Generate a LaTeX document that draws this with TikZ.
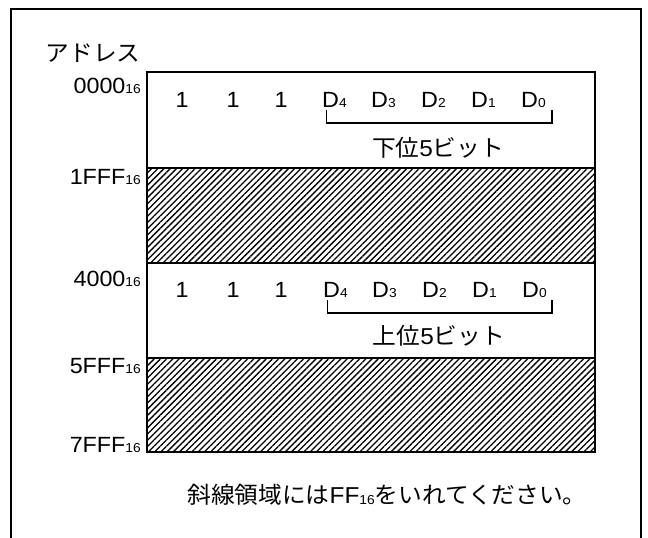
\documentclass[tikz,border=0pt]{standalone}
\usepackage{fontspec}
\setmainfont{Liberation Sans}[FakeStretch=1.06]
\newfontfamily\jp{Noto Sans CJK JP}[FakeStretch=1.03]
\usetikzlibrary{patterns.meta}
\newcommand\hsub[1]{\raisebox{-0.5pt}{\fontsize{13}{15}\selectfont #1}}
\tikzset{
  txt/.style={inner sep=0pt, font=\fontsize{22}{26}\selectfont},
  jtxt/.style={inner sep=0pt, font=\fontsize{23}{27}\selectfont\jp},
  frame/.style={line width=2pt},
  cell/.style={line width=2pt, fill=white},
  hatchcell/.style={line width=2pt, pattern={Lines[angle=45,distance=4.4pt,line width=1.3pt]}},
  brk/.style={line width=1.8pt},
}
\begin{document}
\begin{tikzpicture}[x=1pt,y=-1pt]
\useasboundingbox (0,0) rectangle (648,538);
% outer frame (bottom edge beyond the picture)
\draw[frame] (11,545) -- (11,9) -- (641,9) -- (641,545);
% memory map
\draw[cell] (147,72) rectangle (595,168);
\draw[hatchcell] (147,168) rectangle (595,263);
\draw[cell] (147,263) rectangle (595,358);
\draw[hatchcell] (147,358) rectangle (595,452);
% title
\node[jtxt] (addr) at (93,53) {アドレス};
% addresses
\node[txt, anchor=base east] (a0) at (141,93) {0000\hsub{16}};
\node[txt, anchor=base east] (a1) at (141,184) {1FFF\hsub{16}};
\node[txt, anchor=base east] (a2) at (141,286) {4000\hsub{16}};
\node[txt, anchor=base east] (a3) at (141,373) {5FFF\hsub{16}};
\node[txt, anchor=base east] (a4) at (141,452) {7FFF\hsub{16}};
% row 1
\node[txt, anchor=base] (r1o1) at (182,107) {1};
\node[txt, anchor=base] (r1o2) at (233,107) {1};
\node[txt, anchor=base] (r1o3) at (281,107) {1};
\node[txt, anchor=base west] (r1d4) at (322,107) {D\hsub{4}};
\node[txt, anchor=base west] (r1d3) at (371,107) {D\hsub{3}};
\node[txt, anchor=base west] (r1d2) at (421,107) {D\hsub{2}};
\node[txt, anchor=base west] (r1d1) at (471,107) {D\hsub{1}};
\node[txt, anchor=base west] (r1d0) at (521,107) {D\hsub{0}};
\coordinate (b1a) at (326.5,110);
\coordinate (b1b) at (552,110);
\draw[brk] (b1a) -- ++(0,13) -| (b1b);
\node[jtxt] (low) at (438,147.5) {下位{\rmfamily 5}ビット};
% row 2
\node[txt, anchor=base] (r2o1) at (182,297) {1};
\node[txt, anchor=base] (r2o2) at (233,297) {1};
\node[txt, anchor=base] (r2o3) at (281,297) {1};
\node[txt, anchor=base west] (r2d4) at (323,297) {D\hsub{4}};
\node[txt, anchor=base west] (r2d3) at (372,297) {D\hsub{3}};
\node[txt, anchor=base west] (r2d2) at (422,297) {D\hsub{2}};
\node[txt, anchor=base west] (r2d1) at (472,297) {D\hsub{1}};
\node[txt, anchor=base west] (r2d0) at (522,297) {D\hsub{0}};
\coordinate (b2a) at (327.5,300);
\coordinate (b2b) at (552,300);
\draw[brk] (b2a) -- ++(0,13) -| (b2b);
\node[jtxt] (high) at (439,336) {上位{\rmfamily 5}ビット};
% note
\node[jtxt] (note) at (387,495) {斜線領域には{\rmfamily FF\hsub{16}}をいれてください。};
\end{tikzpicture}
\end{document}
